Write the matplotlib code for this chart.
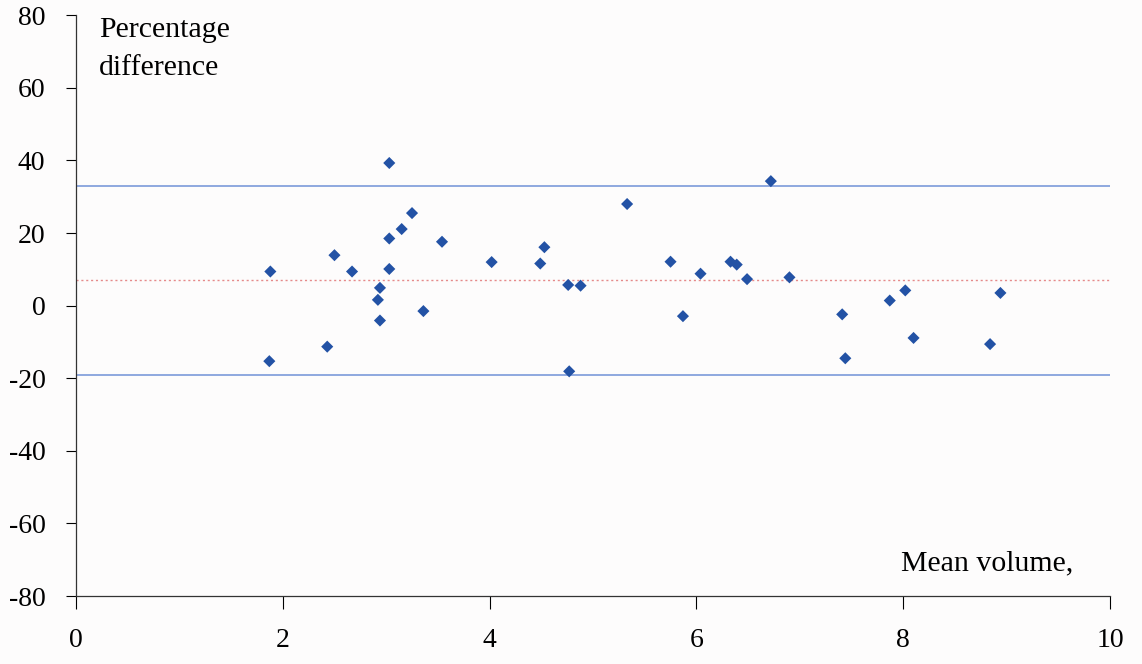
import matplotlib
matplotlib.use("Agg")
import matplotlib.pyplot as plt
import numpy as np

# mean volume (x) and percentage difference (y)
mean_volume = [1.88, 1.87, 2.50, 2.43, 2.67, 3.03, 3.03, 3.15, 3.25, 3.03,
               2.94, 2.92, 2.94, 3.36, 3.54, 4.02,
               4.49, 4.53, 4.76, 4.88, 4.77, 5.33, 5.75, 5.87, 6.04, 6.33,
               6.39, 6.49, 6.72, 6.90,
               7.41, 7.44, 7.87, 8.02, 8.10, 8.84, 8.94]
pct_diff = [9.4, -15.3, 13.9, -11.3, 9.4, 39.3, 18.5, 21.1, 25.5, 10.1,
            4.9, 1.6, -4.1, -1.5, 17.6, 12.0,
            11.6, 16.1, 5.7, 5.5, -18.1, 28.0, 12.1, -2.9, 8.8, 12.1,
            11.3, 7.3, 34.3, 7.8,
            -2.4, -14.5, 1.4, 4.2, -8.9, -10.6, 3.5]

mean_diff = 7.0
upper_loa = 33.0
lower_loa = -19.0

x_ticks = [0, 2, 4, 6, 8, 10]
y_ticks = [-80, -60, -40, -20, 0, 20, 40, 60, 80]

plt.rcParams['font.family'] = ['Liberation Serif', 'DejaVu Serif']
plt.rcParams['axes.unicode_minus'] = False

fig = plt.figure(figsize=(11.42, 6.64), dpi=100)
fig.patch.set_facecolor("#fdfcfc")
ax = fig.add_axes([0.0665, 0.1024, 0.9055, 0.8746])
ax.set_facecolor("#fdfcfc")

ax.axhline(upper_loa, color="#86a2dc", lw=1.3)
ax.axhline(lower_loa, color="#86a2dc", lw=1.3)
ax.axhline(mean_diff, color="#e58a8a", lw=1.0, ls=(0, (1.5, 2.0)))

ax.scatter(mean_volume, pct_diff, marker="D", s=38, color="#2352a5",
           edgecolors="none", zorder=3)

ax.set_xlim(0, 10)
ax.set_ylim(-80, 80)
ax.set_xticks(x_ticks)
ax.set_yticks(y_ticks)
ax.tick_params(axis="x", direction="out", length=9, width=0.8,
               labelsize=20, pad=14)
ax.tick_params(axis="y", direction="out", length=7, width=0.8,
               labelsize=20, pad=15)

for side in ["top", "right"]:
    ax.spines[side].set_visible(False)
for side in ["left", "bottom"]:
    ax.spines[side].set_linewidth(0.9)
    ax.spines[side].set_color("#333333")

ax.text(0.22, 79.5, "Percentage\ndifference", ha="left", va="top",
        fontsize=21.5, linespacing=1.6)
ax.text(9.64, -73, "Mean volume,", ha="right", va="baseline", fontsize=21.5)

fig.savefig("out.png", dpi=100, facecolor=fig.get_facecolor())
